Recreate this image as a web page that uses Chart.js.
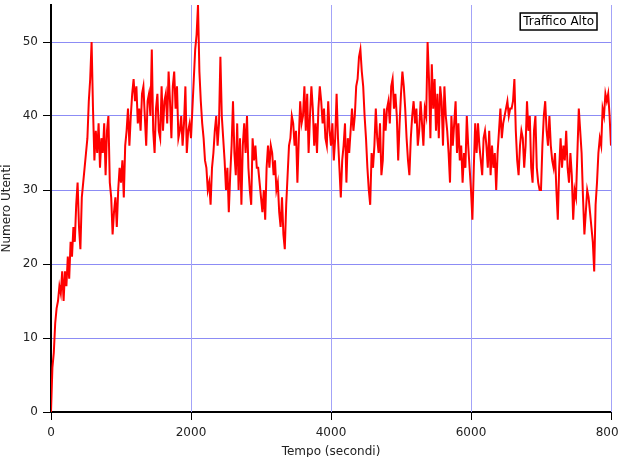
<!DOCTYPE html>
<html>
<head>
<meta charset="utf-8">
<script src="https://cdn.jsdelivr.net/npm/chart.js@4.4.0/dist/chart.umd.min.js"></script>
<style>
  html, body { margin: 0; padding: 0; overflow: hidden; background: #fff; }
</style>
</head>
<body>
<canvas id="grafico" width="618" height="470"></canvas>
<script>
// campione ogni 20 secondi
const passo = 20;
const utenti = [
  // 0 - 980
  0,6,8,12,14,15,17,16,19,15,
  19,17,21,18,23,21,25,23,28,31,
  25,22,29,31,33,35,37,42,45,50,
  41,34,38,35,39,33,37,35,39,32,
  38,40,31,29,24,27,29,25,30,33,
  // 1000 - 1980
  31,34,29,36,38,41,36,40,43,45,
  42,44,39,41,38,43,44,40,36,42,
  43,40,49,38,35,41,43,38,37,44,
  38,42,43,39,46,42,37,44,46,41,
  44,37,38,40,36,39,44,35,38,39,
  // 2000 - 2980
  37,41,45,49,51,55,46,42,39,37,
  34,33,30,31,28,33,35,38,40,36,
  39,48,40,37,34,30,33,27,32,36,
  42,35,32,39,30,37,28,36,39,35,
  40,33,30,28,37,34,36,33,33,31,
  // 3000 - 3980
  29,27,30,26,33,36,33,36,35,32,
  34,30,31,27,25,29,24,22,28,32,
  36,37,40,39,36,38,31,37,42,39,
  40,44,38,43,35,40,44,41,36,39,
  35,41,44,42,39,41,37,36,42,38,
  // 4000 - 4980
  36,39,34,37,43,37,33,29,34,36,
  39,31,37,35,38,41,38,40,44,45,
  48,49,46,44,40,37,33,30,28,35,
  33,36,41,37,35,39,32,34,41,38,
  41,42,39,44,45,41,43,40,34,39,
  // 5000 - 5980
  43,46,44,41,37,34,32,37,40,42,
  39,41,36,38,42,39,36,41,40,50,
  45,37,47,41,45,38,43,37,44,42,
  36,44,40,38,35,31,40,36,39,42,
  35,39,34,36,31,35,33,40,36,33,
  // 6000 - 6980
  30,26,33,39,35,39,36,34,32,37,
  38,36,33,38,32,36,33,35,30,35,
  38,41,37,39,40,41,42,40,41,41,
  42,45,38,34,32,36,38,37,33,36,
  42,38,40,33,31,38,40,33,31,30,
  // 7000 - 7980
  30,36,40,42,38,36,40,36,34,33,
  35,30,26,33,37,33,36,34,38,33,
  31,35,32,26,30,29,35,41,38,35,
  29,24,27,30,29,27,25,23,19,28,
  31,35,37,36,41,40,43,42,43,40,
  // 8000
  36
];
const tempo = utenti.map((v, i) => i * passo);
const xTicks = [0, 2000, 4000, 6000, 8000];
const yTicks = [0, 10, 20, 30, 40, 50];

const blu = '#8c8cf5';

Chart.defaults.font.family = '"DejaVu Sans", sans-serif';
Chart.defaults.font.size = 12;
Chart.defaults.color = '#222';

// griglia verticale (blu chiaro)
const vGrid = {
  id: 'vGrid',
  beforeDatasetsDraw(chart) {
    const {ctx, chartArea, scales} = chart;
    ctx.save();
    ctx.strokeStyle = '#a3a3f8';
    ctx.lineWidth = 1;
    xTicks.forEach(v => {
      if (v === 0) return;
      const x = Math.round(scales.x.getPixelForValue(v)) + 0.5;
      ctx.beginPath();
      ctx.moveTo(x, chartArea.top);
      ctx.lineTo(x, chartArea.bottom);
      ctx.stroke();
    });
    ctx.restore();
  }
};

// riquadro con il nome della serie
const boxLabel = {
  id: 'boxLabel',
  afterDraw(chart) {
    const {ctx, chartArea} = chart;
    const text = chart.data.datasets[0].label;
    ctx.save();
    ctx.font = '12px "DejaVu Sans"';
    const w = ctx.measureText(text).width;
    const right = chartArea.right - 14;
    const top = chartArea.top + 8;
    const left = right - w - 6;
    ctx.fillStyle = '#fff';
    ctx.fillRect(left, top, w + 6, 17);
    ctx.strokeStyle = '#000';
    ctx.lineWidth = 1.5;
    ctx.strokeRect(left, top, w + 6, 17);
    ctx.fillStyle = '#000';
    ctx.textBaseline = 'middle';
    ctx.fillText(text, left + 3, top + 9);
    ctx.restore();
  }
};

new Chart(document.getElementById('grafico'), {
  type: 'line',
  data: {
    datasets: [{
      label: 'Traffico Alto',
      data: tempo.map((t, i) => ({x: t, y: utenti[i]})),
      borderColor: '#ff0000',
      borderWidth: 2,
      pointRadius: 0,
      tension: 0,
      fill: false
    }]
  },
  options: {
    responsive: false,
    animation: false,
    layout: { padding: { top: 5, right: 7, left: 0, bottom: 0 } },
    plugins: { legend: { display: false }, tooltip: { enabled: false } },
    scales: {
      x: {
        type: 'linear',
        min: 0,
        max: 8000,
        afterBuildTicks: (s) => { s.ticks = xTicks.map(v => ({value: v})); },
        afterFit: (s) => { s.height = 58; s.paddingLeft = 0; s.paddingRight = 0; },
        ticks: { padding: 6, maxRotation: 0, callback: (v) => String(v) },
        grid: {
          drawOnChartArea: false,
          tickColor: '#000',
          tickLength: 8
        },
        border: { color: '#000', width: 2 },
        title: { display: true, text: 'Tempo (secondi)', padding: { top: 0, bottom: 11 } }
      },
      y: {
        min: 0,
        max: 55,
        afterBuildTicks: (s) => { s.ticks = yTicks.map(v => ({value: v})); },
        afterFit: (s) => { s.width = 51; s.paddingTop = 0; s.paddingBottom = 0; },
        ticks: { padding: 5 },
        grid: {
          color: (c) => (c.tick && c.tick.value === 0) ? 'rgba(0,0,0,0)' : blu,
          lineWidth: 1,
          tickColor: '#000',
          tickLength: 8
        },
        border: { color: '#000', width: 2 },
        title: { display: true, text: 'Numero Utenti', padding: { top: 0, bottom: 0 } }
      }
    }
  },
  plugins: [vGrid, boxLabel]
});
</script>
</body>
</html>
